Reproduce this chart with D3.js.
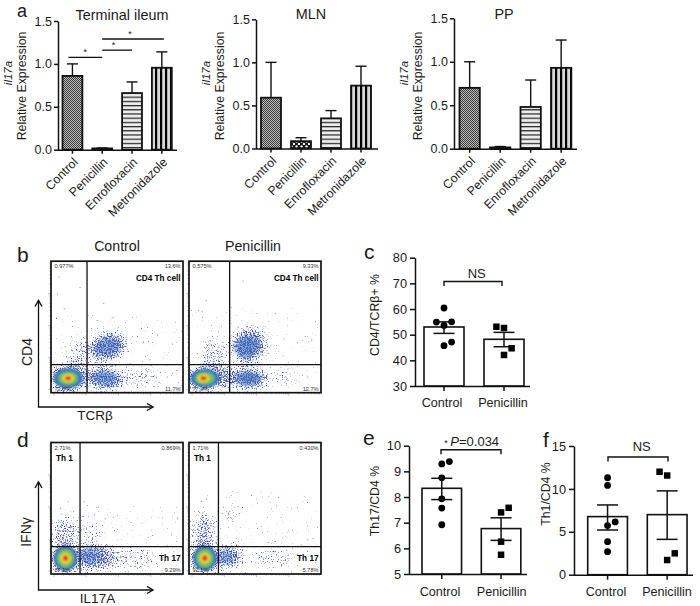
<!DOCTYPE html>
<html><head><meta charset="utf-8">
<script src="https://cdn.jsdelivr.net/npm/d3@7"></script>
<style>
html,body{margin:0;padding:0;background:#fff}
svg{display:block}
text{font-family:"Liberation Sans",Arial,sans-serif;fill:#1a1a1a}
</style></head><body>
<svg id="c" width="700" height="606"></svg>
<script>
// ---------- data ----------
const treatments = ["Control","Penicillin","Enrofloxacin","Metronidazole"];
const ileumMean = [0.86,0.015,0.66,0.955];
const ileumUpper = [1.0,0.02,0.79,1.14];
const mlnMean = [0.59,0.085,0.35,0.73];
const mlnUpper = [1.0,0.125,0.44,0.955];
const ppMean = [0.70,0.015,0.48,0.93];
const ppUpper = [1.0,0.025,0.79,1.25];
const expressionTicks = [0,0.5,1,1.5];
const groups = ["Control","Penicillin"];

const cd4Control = [60.4,54.9,55,53.6,47.1,45.7];
const cd4ControlRank = [0,-1,1,0,1,0];
const cd4Penicillin = [53.1,52.6,44.7,42.1];
const cd4PenicillinRank = [-1,0,1,0];
const cd4Mean = [53,48.2];
const cd4Low = [50.5,45.3];
const cd4High = [55,50.9];
const cd4Ticks = [30,40,50,60,70,80];

const th17Control = [9.29,9.38,8.75,7.93,7.57,6.92];
const th17ControlRank = [0,1,0,0,0,0];
const th17Penicillin = [7.40,7.58,6.26,5.75];
const th17PenicillinRank = [0,1,0,0];
const th17Mean = [8.34,6.77];
const th17Low = [7.9,6.31];
const th17High = [8.73,7.19];
const th17Ticks = [5,6,7,8,9,10];

const th1Control = [11.3,10.4,5.72,6.15,3.85,2.68];
const th1ControlRank = [0,0,0,1,0,0];
const th1Penicillin = [12.0,11.56,1.71,2.49];
const th1PenicillinRank = [-1,0,0,1];
const th1Mean = [6.77,7.0];
const th1Low = [5.21,4.12];
const th1High = [8.13,9.77];
const th1Ticks = [0,5,10,15];

// flow plots: axis units 0-100. blobs = [x,y,rx,ry,rotation,density]
const flowBControlBlobs = [[13,11,15,11,0,1],[40,11,15,9,5,1],[43,35,15,11,-15,1],[21,28,9,14,0,0.55],[68,12,16,7,0,0.5]];
const flowBPenicillinBlobs = [[13,11,16,10,0,1],[28,12,9,8,0,1],[46,11,14,9,0,1],[45,36,14,13,-28,1],[19,28,9,14,0,0.6],[72,12,12,6,0,0.45]];
const flowDControlBlobs = [[11,12,12,12,0,1],[33,13,16,10,0,1],[62,12,18,8,0,0.5],[10,30,9,14,0,0.7],[28,32,11,6,0,0.45]];
const flowDPenicillinBlobs = [[12,12,12,12,0,1],[30,13,11,9,0,0.95],[64,12,18,7,0,0.45],[11,31,9,16,0,0.7],[30,45,6,7,0,0.35]];
// denser middles of the secondary clouds: [x,y,rx,ry,rotation,opacity]
const flowBControlMid = [[41,11,10,5,5,0.55],[43,35,10,6,-15,0.5]];
const flowBPenicillinMid = [[45,11,9,5,0,0.7],[44,35,9,8,-28,0.6]];
const flowDControlMid = [[29,14,7,7,0,0.4]];
const flowDPenicillinMid = [[28,13,5,6,0,0.4]];
const flowBControlCore = [[13,11,11,7.5],[13,11,7.5,5],[13,11,4.5,3.2],[13,11,2.3,1.7]];
const flowBPenicillinCore = [[12,11,11,7],[12,11,7.5,4.8],[11,11,4.5,3.2],[11,11,2.3,1.7]];
const flowDControlCore = [[11,12,9,9.5],[11,12,6.5,7],[11,12,4,4.2],[11,12,2,2.2]];
const flowDPenicillinCore = [[12,12,9,9.5],[12,12,6.5,7],[12,12,4,4.2],[12,12,2,2.2]];
const coreColors = ["#3f78b8","#74c060","#e6d83a","#e23c25"];
const flowBControlStray = [[22,80],[10,64],[35,55],[47,57],[92,37],[70,38],[60,22],[75,25],[88,12],[40,68],[6,88],[5,75],[95,17],[82,8]];
const flowBPenicillinStray = [[13,70],[10,62],[41,85],[62,36],[72,41],[88,43],[93,40],[82,38],[75,18],[90,12],[60,30],[9,20]];
const flowDControlStray = [[13,55],[7,50],[33,45],[24,44],[41,42],[96,42],[48,33],[70,18],[86,10],[93,17],[25,55],[17,48]];
const flowDPenicillinStray = [[13,57],[8,47],[30,45],[31,48],[38,46],[29,42],[35,44],[90,26],[94,27],[60,24],[82,15],[85,22]];
const flowTickDecades = [1,10,100,1000];
const flowTickMultiples = [1,2,3,4,5,6,7,8,9];

// ---------- drawing ----------
const svg = d3.select("#c");
const defs = svg.append("defs");
function pat(id,w,h,draw,bg){
  const p = defs.append("pattern").attr("id",id).attr("patternUnits","userSpaceOnUse").attr("width",w).attr("height",h);
  p.append("rect").attr("width",w).attr("height",h).attr("fill",bg||"#fff");
  draw(p);
}
pat("pCtl",2,2,p=>{p.append("rect").attr("width",1).attr("height",1).attr("fill","#3a3a3a");p.append("rect").attr("x",1).attr("y",1).attr("width",1).attr("height",1).attr("fill","#3a3a3a");},"#bdbdbd");
pat("pPen",5,5,p=>{p.append("circle").attr("cx",1.5).attr("cy",1.5).attr("r",1.2).attr("fill","#fff");p.append("circle").attr("cx",4).attr("cy",4).attr("r",1.2).attr("fill","#fff");},"#111");
pat("pEnr",10,4.2,p=>{p.append("rect").attr("y",0).attr("width",10).attr("height",1.2).attr("fill","#222");},"#ececec");
pat("pMet",5,10,p=>{p.append("rect").attr("x",0).attr("width",2.2).attr("height",10).attr("fill","#000");},"#d8d8d8");
const fills = ["url(#pCtl)","url(#pPen)","url(#pEnr)","url(#pMet)"];

// speckle filter: density of blue dots follows the blurred blob shape
const f = defs.append("filter").attr("id","speck").attr("x","-20%").attr("y","-20%").attr("width","140%").attr("height","140%").attr("color-interpolation-filters","sRGB");
f.append("feGaussianBlur").attr("in","SourceAlpha").attr("stdDeviation",4).attr("result","b");
f.append("feTurbulence").attr("type","fractalNoise").attr("baseFrequency",0.8).attr("numOctaves",2).attr("seed",4).attr("result","n");
f.append("feColorMatrix").attr("in","n").attr("type","matrix").attr("values","0 0 0 0 0  0 0 0 0 0  0 0 0 0 0  1 0 0 0 0").attr("result","na");
f.append("feComposite").attr("in","na").attr("in2","b").attr("operator","arithmetic").attr("k1",0).attr("k2",1).attr("k3",0.34).attr("k4",-0.72).attr("result","t");
const ct = f.append("feComponentTransfer").attr("in","t").attr("result","m");
ct.append("feFuncA").attr("type","linear").attr("slope",5).attr("intercept",0);
f.append("feFlood").attr("flood-color","#3a4fb4").attr("result","col");
f.append("feComposite").attr("in","col").attr("in2","m").attr("operator","in").attr("result","dots");
f.append("feGaussianBlur").attr("in","dots").attr("stdDeviation",0.35);
const sb = defs.append("filter").attr("id","soft").attr("x","-30%").attr("y","-30%").attr("width","160%").attr("height","160%");
sb.append("feGaussianBlur").attr("stdDeviation",1.1);
const sb2 = defs.append("filter").attr("id","soft2").attr("x","-40%").attr("y","-40%").attr("width","180%").attr("height","180%");
sb2.append("feGaussianBlur").attr("stdDeviation",2.2);

function yTitle(x,y,t,size,italic){
  svg.append("text").attr("transform",`translate(${x},${y}) rotate(-90)`).attr("text-anchor","middle")
    .attr("font-size",size).attr("font-style",italic?"italic":"normal").text(t);
}
function label(x,y,t,size,anchor,weight,color){
  const s = svg.append("text").attr("x",x).attr("y",y).attr("font-size",size).attr("text-anchor",anchor||"middle").text(t);
  if(weight) s.attr("font-weight",weight);
  if(color) s.style("fill",color);
  return s;
}
function styleAxis(g,w){
  g.selectAll("path,line").attr("stroke","#111").attr("stroke-width",w);
  g.selectAll("text").attr("fill","#1a1a1a");
}
function barPanel(o){
  const y = d3.scaleLinear().domain([0,1.5]).range([o.y0,o.y1]);
  const x = d3.scaleBand().domain(treatments).range([o.x0,o.x0+o.step*3+o.step*2/3]).paddingInner(1/3);
  const g = svg.append("g");
  treatments.forEach((t,i)=>{
    const cx = x(t)+x.bandwidth()/2;
    g.append("line").attr("x1",cx).attr("x2",cx).attr("y1",y(o.mean[i])).attr("y2",y(o.upper[i])).attr("stroke","#111").attr("stroke-width",1.4);
    g.append("line").attr("x1",cx-5.5).attr("x2",cx+5.5).attr("y1",y(o.upper[i])).attr("y2",y(o.upper[i])).attr("stroke","#111").attr("stroke-width",1.4);
    g.append("rect").attr("x",x(t)).attr("y",y(o.mean[i])).attr("width",x.bandwidth()).attr("height",y(0)-y(o.mean[i]))
      .attr("fill",fills[i]).attr("stroke","#111").attr("stroke-width",1.8);
  });
  const ay = svg.append("g").attr("transform",`translate(${o.ax},0)`)
    .call(d3.axisLeft(y).tickValues(expressionTicks).tickFormat(d3.format(".1f")).tickSize(4).tickSizeOuter(0));
  ay.selectAll("text").attr("font-size",12.5).attr("font-family","Liberation Sans").attr("dx",1);
  styleAxis(ay,1.5);
  const ax = svg.append("g").attr("transform",`translate(0,${o.y0})`).call(d3.axisBottom(x).tickSize(4).tickSizeOuter(0));
  ax.select("path").attr("d",`M${o.ax},0.5H${o.xEnd}`);
  ax.selectAll("text").attr("font-size",12.3).attr("font-family","Liberation Sans")
    .attr("text-anchor","end").attr("transform","translate(-4,3) rotate(-45)").attr("dy","0.6em").attr("dx","0");
  styleAxis(ax,1.5);
  label(o.titleX,o.titleY,o.title,14.4);
  yTitle(o.ax-46.5,73,"il17a",11.5,true);
  yTitle(o.ax-32,86,"Relative Expression",12.3);
  return {x,y};
}
const a1 = barPanel({title:"Terminal ileum",titleX:122,titleY:20,mean:ileumMean,upper:ileumUpper,y0:149.7,y1:21,x0:62.5,step:29.8,ax:58,xEnd:177});
barPanel({title:"MLN",titleX:311,titleY:19,mean:mlnMean,upper:mlnUpper,y0:148.5,y1:19.3,x0:261,step:30,ax:256,xEnd:378});
barPanel({title:"PP",titleX:504,titleY:19,mean:ppMean,upper:ppUpper,y0:148.7,y1:18.3,x0:459.5,step:30.5,ax:454,xEnd:577});

// significance bars panel a
[[0,1,1.075,"*",0.5],[1,2,1.16,"*",0.38],[1,3,1.29,"*",0.45]].forEach(([p,q,v,s,fr])=>{
  const cx = i=>a1.x(treatments[i])+a1.x.bandwidth()/2;
  const x1 = cx(p)-(p===0?4:0), x2 = cx(q)+(q===3?2:0);
  svg.append("line").attr("x1",x1).attr("x2",x2).attr("y1",a1.y(v)).attr("y2",a1.y(v)).attr("stroke","#111").attr("stroke-width",1.3);
  label(x1+(x2-x1)*fr,a1.y(v)-2,s,9);
});

// flow plots
function flow(o){
  const x = d3.scaleLinear().domain([0,100]).range([o.l,o.l+132]);
  const y = d3.scaleLinear().domain([0,100]).range([o.b,o.b-131.5]);
  const clipId = "clip"+o.id;
  defs.append("clipPath").attr("id",clipId).append("rect").attr("x",o.l).attr("y",o.b-131.5).attr("width",132).attr("height",131.5);
  const g = svg.append("g").attr("clip-path",`url(#${clipId})`);
  g.append("g").attr("filter","url(#speck)").selectAll("ellipse").data(o.blobs).join("ellipse")
    .attr("transform",d=>`translate(${x(d[0])},${y(d[1])}) rotate(${d[4]})`)
    .attr("rx",d=>x(d[2])-x(0)).attr("ry",d=>y(0)-y(d[3])).attr("fill","#000").attr("fill-opacity",d=>d[5]);
  g.append("g").attr("filter","url(#soft2)").selectAll("ellipse").data(o.mid).join("ellipse")
    .attr("transform",d=>`translate(${x(d[0])},${y(d[1])}) rotate(${d[4]})`)
    .attr("rx",d=>x(d[2])-x(0)).attr("ry",d=>y(0)-y(d[3])).attr("fill","#3f72b8").attr("fill-opacity",d=>d[5]);
  g.append("g").selectAll("circle").data(o.stray).join("circle")
    .attr("cx",d=>x(d[0])).attr("cy",d=>y(d[1])).attr("r",0.5).attr("fill","#4a5cc0");
  g.append("g").attr("filter","url(#soft)").selectAll("ellipse").data(o.core).join("ellipse")
    .attr("cx",d=>x(d[0])).attr("cy",d=>y(d[1])).attr("rx",d=>x(d[2])-x(0)).attr("ry",d=>y(0)-y(d[3]))
    .attr("fill",(d,i)=>coreColors[i]);
  // log ticks
  const lx = d3.scaleLog().domain([1,10000]).range([o.l+3,o.l+132]);
  const ly = d3.scaleLog().domain([1,10000]).range([o.b-3,o.b-131]);
  const vals = flowTickDecades.flatMap(d=>flowTickMultiples.map(m=>d*m));
  svg.append("g").selectAll("line").data(vals).join("line")
    .attr("x1",d=>lx(d)).attr("x2",d=>lx(d)).attr("y1",o.b).attr("y2",(d,i)=>o.b+(i%9===0?3:1.8)).attr("stroke","#888").attr("stroke-width",0.5);
  svg.append("g").selectAll("line").data(vals).join("line")
    .attr("y1",d=>ly(d)).attr("y2",d=>ly(d)).attr("x1",o.l).attr("x2",(d,i)=>o.l-(i%9===0?3:1.8)).attr("stroke","#888").attr("stroke-width",0.5);
  // gates + frame
  svg.append("line").attr("x1",x(o.gx)).attr("x2",x(o.gx)).attr("y1",y(0)).attr("y2",y(100)).attr("stroke","#111").attr("stroke-width",1.3);
  svg.append("line").attr("x1",x(0)).attr("x2",x(100)).attr("y1",y(o.gy)).attr("y2",y(o.gy)).attr("stroke","#111").attr("stroke-width",1.3);
  svg.append("rect").attr("x",x(0)).attr("y",y(100)).attr("width",132).attr("height",131.5).attr("fill","none").attr("stroke","#111").attr("stroke-width",1.7);
  // quadrant labels
  const c = "#333";
  label(o.l+3.5,o.b-124.5,o.q[0],5.6,"start",null,c);
  label(o.l+129.5,o.b-124.5,o.q[1],5.6,"end",null,c);
  label(o.l+3.5,o.b-1.8,o.q[2],5.6,"start",null,c);
  label(o.l+129.5,o.b-1.8,o.q[3],5.6,"end",null,c);
  if(o.cd4) label(o.l+129.5,o.b-112,"CD4 Th cell",8.2,"end","bold","#000");
  if(o.th){
    label(o.l+5,o.b-113.3,"Th 1",8.2,"start","bold","#000");
    label(o.l+129.5,o.b-13.3,"Th 17",8.2,"end","bold","#000");
  }
}
flow({id:"b1",l:51,b:392.7,gx:27.3,gy:21.3,blobs:flowBControlBlobs,mid:flowBControlMid,core:flowBControlCore,stray:flowBControlStray,q:["0.977%","13.6%","73.8%","11.7%"],cd4:true});
flow({id:"b2",l:189,b:392.7,gx:30.8,gy:21.3,blobs:flowBPenicillinBlobs,mid:flowBPenicillinMid,core:flowBPenicillinCore,stray:flowBPenicillinStray,q:["0.575%","9.33%","77.4%","12.7%"],cd4:true});
flow({id:"d1",l:51,b:574,gx:22,gy:20.8,blobs:flowDControlBlobs,mid:flowDControlMid,core:flowDControlCore,stray:flowDControlStray,q:["2.71%","0.869%","87.1%","9.29%"],th:true});
flow({id:"d2",l:189,b:574,gx:22.3,gy:20.8,blobs:flowDPenicillinBlobs,mid:flowDPenicillinMid,core:flowDPenicillinCore,stray:flowDPenicillinStray,q:["1.71%","0.430%","92.1%","5.78%"],th:true});
label(117,251,"Control",14.2);
label(253,251,"Penicillin",14.2);

// arrows
defs.append("marker").attr("id","arr").attr("markerWidth",9).attr("markerHeight",9).attr("refX",7).attr("refY",4).attr("orient","auto").attr("markerUnits","userSpaceOnUse")
  .append("path").attr("d","M1,0.5L7,4L1,7.5").attr("fill","none").attr("stroke","#111").attr("stroke-width",1.4);
function arrows(x0,y0,top,right){
  svg.append("path").attr("d",`M${x0},${top}V${y0}H${right}`).attr("fill","none").attr("stroke","#111").attr("stroke-width",1.3)
    .attr("marker-end","url(#arr)");
  svg.append("path").attr("d",`M${x0-3.5},${top+6}L${x0},${top}L${x0+3.5},${top+6}`).attr("fill","none").attr("stroke","#111").attr("stroke-width",1.4);
}
arrows(38.5,407,300.5,153);
arrows(38.5,590,482,153);
yTitle(32,352,"CD4",14);
label(95,420,"TCRβ",13.5);
yTitle(31,532,"IFNγ",14);
label(97.5,603,"IL17A",13.5);

// scatter bar panels
function scatterPanel(o){
  const y = d3.scaleLinear().domain(o.domain).range([o.y0,o.y1]);
  const x = d3.scaleBand().domain(groups).range([o.x0,o.x0+o.step+o.step*2/3]).paddingInner(1/3);
  const cx = g=>x(g)+x.bandwidth()/2;
  const jitter = 7.6;
  groups.forEach((g,i)=>{
    svg.append("rect").attr("x",x(g)).attr("y",y(o.mean[i])).attr("width",x.bandwidth()).attr("height",y(o.domain[0])-y(o.mean[i]))
      .attr("fill","#fff").attr("stroke","#111").attr("stroke-width",1.6);
  });
  svg.append("g").selectAll("circle").data(o.ctl).join("circle")
    .attr("cx",(d,i)=>cx(groups[0])+o.ctlRank[i]*jitter).attr("cy",d=>y(d)).attr("r",3.4).attr("fill","#000");
  const sym = d3.symbol().type(d3.symbolSquare).size(42);
  svg.append("g").selectAll("path").data(o.pen).join("path").attr("d",sym)
    .attr("transform",(d,i)=>`translate(${cx(groups[1])+o.penRank[i]*jitter},${y(d)})`).attr("fill","#000");
  groups.forEach((g,i)=>{
    const c = cx(g);
    const e = svg.append("g").attr("stroke","#111").attr("stroke-width",1.5);
    e.append("line").attr("x1",c).attr("x2",c).attr("y1",y(o.low[i])).attr("y2",y(o.high[i]));
    [o.low[i],o.high[i]].forEach(v=>e.append("line").attr("x1",c-10.5).attr("x2",c+10.5).attr("y1",y(v)).attr("y2",y(v)));
  });
  const ay = svg.append("g").attr("transform",`translate(${o.ax},0)`)
    .call(d3.axisLeft(y).tickValues(o.ticks).tickFormat(d3.format("d")).tickSize(5).tickSizeOuter(0));
  ay.selectAll("text").attr("font-size",12.8).attr("font-family","Liberation Sans");
  styleAxis(ay,1.5);
  const ax = svg.append("g").attr("transform",`translate(0,${o.y0})`).call(d3.axisBottom(x).tickSize(5).tickSizeOuter(0).tickFormat(()=>""));
  ax.select("path").attr("d",`M${o.ax},0.5H${o.xEnd}`);
  styleAxis(ax,1.5);
  label(o.lab[0],o.labY,groups[0],12.6);
  label(o.lab[1],o.labY,groups[1],12.6);
  yTitle(o.titleX,o.titleY,o.title,12.3);
  svg.append("path").attr("d",`M${o.br[0]},${o.br[2]+4.5}V${o.br[2]}H${o.br[1]}V${o.br[2]+4.5}`).attr("fill","none").attr("stroke","#111").attr("stroke-width",1.4);
}
scatterPanel({domain:[30,80],y0:386,y1:257.7,x0:424,step:60,ax:415,xEnd:530,mean:cd4Mean,low:cd4Low,high:cd4High,ctl:cd4Control,ctlRank:cd4ControlRank,pen:cd4Penicillin,penRank:cd4PenicillinRank,ticks:cd4Ticks,lab:[442,503],labY:406.5,title:"CD4/TCRβ+ %",titleX:379,titleY:315,br:[444,502,281.5]});
label(476.7,278,"NS",13);
scatterPanel({domain:[5,10],y0:574,y1:445.7,x0:422,step:59.3,ax:409,xEnd:527,mean:th17Mean,low:th17Low,high:th17High,ctl:th17Control,ctlRank:th17ControlRank,pen:th17Penicillin,penRank:th17PenicillinRank,ticks:th17Ticks,lab:[440,501.7],labY:595.5,title:"Th17/CD4 %",titleX:379,titleY:501,br:[441,501,449.7]});
const pl = svg.append("text").attr("x",471.7).attr("y",445.7).attr("text-anchor","middle").attr("font-size",13);
pl.append("tspan").attr("font-size",9).text("* ");
pl.append("tspan").attr("font-style","italic").text("P");
pl.append("tspan").text("=0.034");
scatterPanel({domain:[0,15],y0:574.7,y1:446,x0:587.7,step:59.6,ax:574,xEnd:693,mean:th1Mean,low:th1Low,high:th1High,ctl:th1Control,ctlRank:th1ControlRank,pen:th1Penicillin,penRank:th1PenicillinRank,ticks:th1Ticks,lab:[606,667],labY:595.5,title:"Th1/CD4 %",titleX:550,titleY:494,br:[608,668,457]});
label(641.7,451,"NS",13);

// panel letters
[["a",17,16.5,18],["b",17,262,21],["c",364,259,21],["d",17,447,21],["e",363,445,21],["f",543,447,21]].forEach(([t,x,y,s])=>{
  label(x,y,t,s,"start");
});
</script></body></html>
